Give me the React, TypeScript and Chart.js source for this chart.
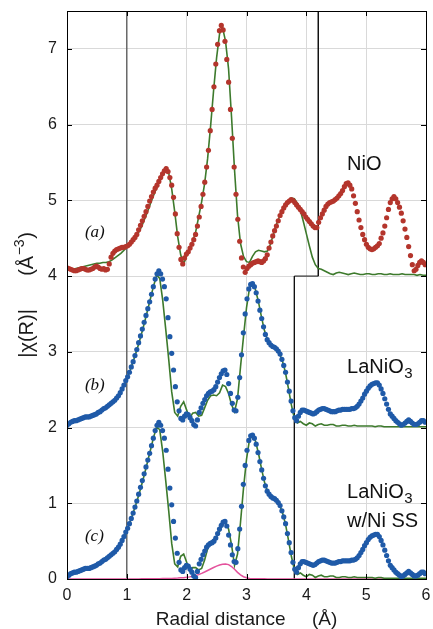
import React, { useEffect, useRef } from "react";
import { Chart, registerables } from "chart.js";

Chart.register(...registerables);

// R-grid spacing of the measured |chi(R)| and of the fit curves (Å)
const DATA_DR = 0.0307;
const FIT_DR = 0.05;

// vertical offsets of the stacked traces
const OFFSET_NIO = 4;
const OFFSET_LANIO3 = 2;
const OFFSET_LANIO3_NISS = 0;

// NiO measured |chi(R)| (before offset)
const nioData = [
  0.11, 0.10, 0.09, 0.08, 0.07, 0.07, 0.08, 0.09, 0.10, 0.10,
  0.09, 0.08, 0.08, 0.09, 0.10, 0.12, 0.13, 0.12, 0.10, 0.09,
  0.10, 0.08, 0.09, 0.16, 0.25, 0.30, 0.33, 0.35, 0.36, 0.37,
  0.38, 0.38, 0.39, 0.40, 0.42, 0.45, 0.48, 0.51, 0.55, 0.61,
  0.67, 0.73, 0.79, 0.85, 0.92, 0.99, 1.05, 1.11, 1.16, 1.20,
  1.25, 1.30, 1.35, 1.39, 1.42, 1.38, 1.30, 1.20, 1.04, 0.82,
  0.56, 0.38, 0.22, 0.16, 0.24, 0.29, 0.32, 0.37, 0.42, 0.48,
  0.55, 0.66, 0.78, 0.92, 1.08, 1.24, 1.44, 1.66, 1.92, 2.20,
  2.50, 2.80, 3.06, 3.24, 3.31, 3.25, 3.10, 2.86, 2.56, 2.20,
  1.82, 1.44, 1.08, 0.75, 0.46, 0.24, 0.12, 0.05, 0.10, 0.13,
  0.15, 0.17, 0.18, 0.19, 0.20, 0.19, 0.18, 0.20, 0.23, 0.28,
  0.37, 0.45, 0.53, 0.60, 0.66, 0.73, 0.80, 0.85, 0.90, 0.94,
  0.97, 0.99, 1.01, 1.00, 0.97, 0.94, 0.91, 0.88, 0.85, 0.82,
  0.78, 0.75, 0.72, 0.69, 0.66, 0.64, 0.64, 0.71, 0.77, 0.82,
  0.87, 0.92, 0.95, 0.97, 0.98, 0.99, 1.01, 1.03, 1.06, 1.09,
  1.13, 1.18, 1.22, 1.23, 1.20, 1.15, 1.06, 0.96, 0.85, 0.74,
  0.64, 0.55, 0.48, 0.42, 0.38, 0.36, 0.35, 0.36, 0.38, 0.40,
  0.43, 0.50, 0.57, 0.66, 0.77, 0.88, 0.97, 1.02, 1.05, 1.02,
  0.97, 0.91, 0.83, 0.73, 0.62, 0.51, 0.39, 0.27, 0.15, 0.07,
  0.09, 0.14, 0.18, 0.20, 0.18, 0.15,
];

// LaNiO3 measured |chi(R)| (before offset)
const lanio3Data = [
  0.03, 0.05, 0.07, 0.08, 0.09, 0.09, 0.10, 0.11, 0.12, 0.13,
  0.14, 0.14, 0.14, 0.15, 0.16, 0.17, 0.18, 0.20, 0.21, 0.23,
  0.25, 0.26, 0.28, 0.30, 0.32, 0.34, 0.36, 0.39, 0.42, 0.46,
  0.51, 0.56, 0.62, 0.67, 0.73, 0.80, 0.87, 0.95, 1.03, 1.12,
  1.21, 1.30, 1.39, 1.48, 1.57, 1.66, 1.76, 1.86, 1.96, 2.03,
  2.07, 2.03, 1.96, 1.86, 1.70, 1.45, 1.20, 0.98, 0.76, 0.54,
  0.34, 0.22, 0.12, 0.10, 0.15, 0.18, 0.17, 0.13, 0.09, 0.04,
  0.02, 0.10, 0.20, 0.26, 0.32, 0.37, 0.42, 0.45, 0.47, 0.48,
  0.50, 0.54, 0.60, 0.66, 0.71, 0.75, 0.76, 0.70, 0.58, 0.45,
  0.32, 0.23, 0.22, 0.40, 0.66, 0.96, 1.25, 1.50, 1.70, 1.83,
  1.89, 1.90, 1.86, 1.78, 1.67, 1.55, 1.44, 1.33, 1.23, 1.16,
  1.12, 1.09, 1.07, 1.06, 1.04, 1.01, 0.97, 0.90, 0.82, 0.73,
  0.60, 0.48, 0.35, 0.22, 0.13, 0.09, 0.15, 0.20, 0.23, 0.23,
  0.22, 0.21, 0.20, 0.19, 0.18, 0.19, 0.21, 0.23, 0.24, 0.25,
  0.25, 0.24, 0.23, 0.22, 0.21, 0.21, 0.21, 0.22, 0.23, 0.23,
  0.24, 0.24, 0.24, 0.24, 0.24, 0.25, 0.25, 0.26, 0.28, 0.31,
  0.35, 0.39, 0.44, 0.48, 0.52, 0.55, 0.57, 0.58, 0.59, 0.59,
  0.56, 0.51, 0.45, 0.38, 0.31, 0.24, 0.18, 0.15, 0.12, 0.09,
  0.07, 0.05, 0.03, 0.04, 0.06, 0.08, 0.10, 0.08, 0.06, 0.04,
  0.04, 0.05, 0.07, 0.09, 0.09, 0.07,
];

// NiO fit (before offset)
const nioFit = [
  0.10, 0.09, 0.09, 0.10, 0.11, 0.12, 0.13, 0.14, 0.15, 0.16,
  0.17, 0.17, 0.18, 0.18, 0.19, 0.21, 0.24, 0.27, 0.30, 0.34,
  0.38, 0.42, 0.47, 0.52, 0.58, 0.66, 0.76, 0.86, 0.97, 1.07,
  1.17, 1.26, 1.35, 1.43, 1.36, 1.15, 0.85, 0.52, 0.28, 0.16,
  0.27, 0.37, 0.46, 0.58, 0.78, 0.98, 1.22, 1.55, 1.98, 2.45,
  2.88, 3.20, 3.28, 3.10, 2.74, 2.10, 1.40, 0.80, 0.43, 0.26,
  0.19, 0.18, 0.26, 0.32, 0.34, 0.33, 0.32, 0.33, 0.42, 0.55,
  0.68, 0.78, 0.87, 0.94, 0.99, 1.03, 1.02, 0.96, 0.87, 0.72,
  0.56, 0.40, 0.25, 0.15, 0.10, 0.09, 0.07, 0.05, 0.03, 0.02,
  0.04, 0.05, 0.04, 0.03, 0.02, 0.03, 0.04, 0.03, 0.02, 0.02,
  0.03, 0.03, 0.02, 0.02, 0.03, 0.03, 0.02, 0.02, 0.03, 0.02,
  0.02, 0.02, 0.03, 0.02, 0.02, 0.02, 0.02, 0.01, 0.02, 0.01,
  0.01,
];

// LaNiO3 fit without Ni single scattering (before offset)
const lanio3Fit = [
  0.06, 0.07, 0.08, 0.09, 0.10, 0.11, 0.13, 0.14, 0.15, 0.16,
  0.18, 0.20, 0.23, 0.26, 0.29, 0.33, 0.37, 0.41, 0.47, 0.55,
  0.64, 0.74, 0.86, 0.98, 1.11, 1.25, 1.40, 1.56, 1.72, 1.88,
  2.01, 1.97, 1.68, 1.30, 0.90, 0.47, 0.20, 0.15, 0.28, 0.34,
  0.23, 0.12, 0.19, 0.20, 0.15, 0.16, 0.26, 0.36, 0.42, 0.43,
  0.42, 0.46, 0.56, 0.54, 0.45, 0.30, 0.21, 0.38, 0.80, 1.20,
  1.58, 1.84, 1.90, 1.82, 1.66, 1.46, 1.28, 1.16, 1.10, 1.07,
  1.04, 0.98, 0.88, 0.73, 0.52, 0.30, 0.12, 0.06, 0.08, 0.05,
  0.03, 0.06, 0.05, 0.02, 0.04, 0.05, 0.03, 0.03, 0.04, 0.04,
  0.02, 0.02, 0.03, 0.03, 0.02, 0.02, 0.03, 0.02, 0.02, 0.02,
  0.02, 0.02, 0.02, 0.01, 0.02, 0.02, 0.01, 0.01, 0.01, 0.01,
  0.01, 0.01, 0.01, 0.01, 0.01, 0.01, 0.01, 0.01, 0.01, 0.01,
  0.01,
];

// LaNiO3 fit with Ni single scattering (before offset)
const lanio3NiSSFit = [
  0.05, 0.06, 0.07, 0.08, 0.09, 0.10, 0.12, 0.13, 0.14, 0.16,
  0.18, 0.20, 0.23, 0.26, 0.29, 0.33, 0.37, 0.41, 0.47, 0.55,
  0.64, 0.74, 0.86, 0.98, 1.11, 1.25, 1.40, 1.56, 1.72, 1.88,
  2.01, 1.97, 1.68, 1.30, 0.90, 0.47, 0.20, 0.16, 0.30, 0.33,
  0.22, 0.11, 0.15, 0.15, 0.12, 0.14, 0.25, 0.40, 0.48, 0.52,
  0.56, 0.63, 0.72, 0.75, 0.66, 0.45, 0.18, 0.33, 0.75, 1.20,
  1.58, 1.84, 1.90, 1.82, 1.66, 1.46, 1.28, 1.16, 1.10, 1.07,
  1.04, 0.98, 0.88, 0.73, 0.52, 0.30, 0.12, 0.06, 0.08, 0.05,
  0.03, 0.06, 0.05, 0.02, 0.04, 0.05, 0.03, 0.03, 0.04, 0.04,
  0.02, 0.02, 0.03, 0.03, 0.02, 0.02, 0.03, 0.02, 0.02, 0.02,
  0.02, 0.02, 0.02, 0.01, 0.02, 0.02, 0.01, 0.01, 0.01, 0.01,
  0.01, 0.01, 0.01, 0.01, 0.01, 0.01, 0.01, 0.01, 0.01, 0.01,
  0.01,
];

// Ni single-scattering path contribution
const niSSPath = [
  0, 0, 0, 0, 0, 0, 0, 0, 0, 0,
  0, 0, 0, 0, 0, 0, 0, 0, 0, 0,
  0.001, 0.001, 0.001, 0.001, 0.001, 0.002, 0.002, 0.002, 0.002, 0.003,
  0.003, 0.004, 0.005, 0.006, 0.007, 0.008, 0.010, 0.012, 0.015, 0.018,
  0.022, 0.028, 0.036, 0.046, 0.058, 0.074, 0.092, 0.112, 0.132, 0.152,
  0.170, 0.185, 0.195, 0.198, 0.190, 0.165, 0.128, 0.088, 0.055, 0.030,
  0.016, 0.008, 0.004, 0.003, 0.002, 0.002, 0.002, 0.001, 0.001, 0.001,
  0.001, 0.001, 0.001, 0.001, 0.001, 0.001, 0.001, 0.001, 0.001, 0.001,
  0.001, 0.001, 0.001, 0.001, 0.001, 0.001, 0.001, 0.001, 0.001, 0.001,
  0.001, 0.001, 0.001, 0.001, 0.001, 0.001, 0.001, 0.001, 0.001, 0.001,
  0.001, 0.001, 0.001, 0.001, 0.001, 0.001, 0.001, 0.001, 0.001, 0.001,
  0.001, 0.001, 0.001, 0.001, 0.001, 0.001, 0.001, 0.001, 0.001, 0.001,
  0.001,
];

const xTickValues = [0, 1, 2, 3, 4, 5, 6];
const yTickValues = [0, 1, 2, 3, 4, 5, 6, 7];
const X_MIN = 0;
const X_MAX = 6;
const Y_MIN = 0;
const Y_MAX = 7.5;

// fitting-range boundaries
const windowLowR = 1.0;
const windowHighNiO = 4.2;
const windowHighLaNiO3 = 3.8;
const windowSplitY = 4;

const RED = "#b4352c";
const BLUE = "#1f5aa8";
const GREEN = "#3d7a2c";
const PINK = "#e4529c";
const FONT = '"Liberation Sans", Arial, Helvetica, sans-serif';
const SERIF = '"Liberation Serif", "Times New Roman", serif';

const toPoints = (vals: number[], step: number, offset: number) =>
  vals.map((v, i) => ({ x: Math.round(i * step * 10000) / 10000, y: v + offset }));

const decorPlugin = {
  id: "decor",
  afterDraw(chart: any) {
    const { ctx, chartArea, scales } = chart;
    const { left, right, top, bottom } = chartArea;
    const xs = scales.x;
    const ys = scales.y;
    const al = (v: number) => Math.round(v) + 0.5;
    ctx.save();
    // frame
    ctx.strokeStyle = "#000";
    ctx.lineWidth = 1;
    ctx.strokeRect(al(left), al(top), Math.round(right) - Math.round(left), Math.round(bottom) - Math.round(top));
    // inward ticks on all four sides
    ctx.beginPath();
    const TL = 5;
    xTickValues.forEach((v) => {
      const X = al(xs.getPixelForValue(v));
      ctx.moveTo(X, bottom);
      ctx.lineTo(X, bottom - TL);
      ctx.moveTo(X, top);
      ctx.lineTo(X, top + TL);
    });
    yTickValues.forEach((v) => {
      const Y = al(ys.getPixelForValue(v));
      ctx.moveTo(left, Y);
      ctx.lineTo(left + TL, Y);
      ctx.moveTo(right, Y);
      ctx.lineTo(right - TL, Y);
    });
    ctx.stroke();

    // sample labels
    ctx.fillStyle = "#111";
    ctx.textBaseline = "alphabetic";
    ctx.textAlign = "left";
    const labelX = xs.getPixelForValue(4.68);
    const chem = (main: string, sub: string, yv: number) => {
      const Y = ys.getPixelForValue(yv);
      ctx.font = `20px ${FONT}`;
      ctx.fillText(main, labelX, Y);
      if (sub) {
        const w = ctx.measureText(main).width;
        ctx.font = `15px ${FONT}`;
        ctx.fillText(sub, labelX + w + 0.5, Y + 5);
      }
    };
    chem("NiO", "", 5.4);
    chem("LaNiO", "3", 2.72);
    chem("LaNiO", "3", 1.07);
    chem("w/Ni SS", "", 0.69);

    ctx.font = `italic 17px ${SERIF}`;
    const tagX = xs.getPixelForValue(0.3);
    ctx.fillText("(a)", tagX, ys.getPixelForValue(4.51));
    ctx.fillText("(b)", tagX, ys.getPixelForValue(2.49));
    ctx.fillText("(c)", tagX, ys.getPixelForValue(0.5));

    // x axis title
    ctx.fillStyle = "#1a1a1a";
    ctx.font = `19px ${FONT}`;
    ctx.textAlign = "center";
    ctx.fillText("Radial distance     (Å)", (left + right) / 2, 625);

    // y axis title (rotated), with superscript
    const cy = (top + bottom) / 2;
    ctx.translate(33, cy);
    ctx.rotate(-Math.PI / 2);
    ctx.textAlign = "left";
    const partA = "|χ(R)|      (Å";
    const sup = "−3";
    const partC = ")";
    ctx.font = `20px ${FONT}`;
    const wA = ctx.measureText(partA).width;
    const wC = ctx.measureText(partC).width;
    ctx.font = `14px ${FONT}`;
    const wS = ctx.measureText(sup).width;
    const total = wA + wS + wC + 1;
    let cx = -total / 2;
    ctx.font = `20px ${FONT}`;
    ctx.fillText(partA, cx, 0);
    cx += wA + 0.5;
    ctx.font = `14px ${FONT}`;
    ctx.fillText(sup, cx, -9);
    cx += wS + 0.5;
    ctx.font = `20px ${FONT}`;
    ctx.fillText(partC, cx, 0);
    ctx.restore();
  },
};

export default function App() {
  const canvasRef = useRef<HTMLCanvasElement | null>(null);

  useEffect(() => {
    if (!canvasRef.current) return;
    const dots = (data: any, color: string) => ({
      data,
      showLine: false,
      pointRadius: 2.6,
      pointHoverRadius: 0,
      pointBackgroundColor: color,
      pointBorderColor: color,
      pointBorderWidth: 0,
    });
    const line = (data: any, color: string, width: number) => ({
      data,
      showLine: true,
      borderColor: color,
      borderWidth: width,
      pointRadius: 0,
      pointHoverRadius: 0,
      tension: 0,
      fill: false,
    });

    const chart = new Chart(canvasRef.current, {
      type: "scatter",
      data: {
        datasets: [
          dots(toPoints(nioData, DATA_DR, OFFSET_NIO), RED),
          dots(toPoints(lanio3Data, DATA_DR, OFFSET_LANIO3), BLUE),
          dots(toPoints(lanio3Data, DATA_DR, OFFSET_LANIO3_NISS), BLUE),
          line(toPoints(nioFit, FIT_DR, OFFSET_NIO), GREEN, 1.6),
          line(toPoints(lanio3Fit, FIT_DR, OFFSET_LANIO3), GREEN, 1.6),
          line(toPoints(lanio3NiSSFit, FIT_DR, OFFSET_LANIO3_NISS), GREEN, 1.6),
          line(toPoints(niSSPath, FIT_DR, OFFSET_LANIO3_NISS), PINK, 1.5),
          line(
            [
              { x: windowLowR, y: Y_MIN },
              { x: windowLowR, y: Y_MAX },
            ],
            "#4a4a4a",
            1.2
          ),
          line(
            [
              { x: windowHighNiO, y: Y_MAX },
              { x: windowHighNiO, y: windowSplitY },
              { x: windowHighLaNiO3, y: windowSplitY },
              { x: windowHighLaNiO3, y: Y_MIN },
            ],
            "#111",
            1
          ),
        ] as any,
      },
      options: {
        animation: false,
        responsive: false,
        maintainAspectRatio: false,
        events: [],
        layout: { padding: { top: 11, right: 7, left: 0, bottom: 0 } },
        plugins: {
          legend: { display: false },
          tooltip: { enabled: false },
          title: { display: false },
        },
        scales: {
          x: {
            type: "linear",
            min: X_MIN,
            max: X_MAX,
            afterBuildTicks: (s: any) => {
              s.ticks = xTickValues.map((v) => ({ value: v }));
            },
            afterFit: (s: any) => {
              s.height = 50;
              s.paddingLeft = 0;
              s.paddingRight = 0;
            },
            grid: { color: "#d9d9d9", lineWidth: 1, drawTicks: false },
            border: { display: false },
            ticks: {
              padding: 7,
              color: "#1a1a1a",
              font: { family: FONT, size: 16 },
              maxRotation: 0,
              autoSkip: false,
              callback: (v: any) => String(v),
            },
          },
          y: {
            type: "linear",
            min: Y_MIN,
            max: Y_MAX,
            afterBuildTicks: (s: any) => {
              s.ticks = yTickValues.map((v) => ({ value: v }));
            },
            afterFit: (s: any) => {
              s.width = 67;
              s.paddingTop = 0;
              s.paddingBottom = 0;
            },
            grid: { color: "#d9d9d9", lineWidth: 1, drawTicks: false },
            border: { display: false },
            ticks: {
              padding: 10,
              color: "#1a1a1a",
              font: { family: FONT, size: 16 },
              autoSkip: false,
              callback: (v: any) => String(v),
            },
          },
        },
      } as any,
      plugins: [decorPlugin],
    });
    return () => chart.destroy();
  }, []);

  return (
    <div style={{ position: "fixed", left: 0, top: 0, width: 433, height: 629, background: "#fff" }}>
      <canvas ref={canvasRef} width={433} height={629} style={{ display: "block" }} />
    </div>
  );
}
